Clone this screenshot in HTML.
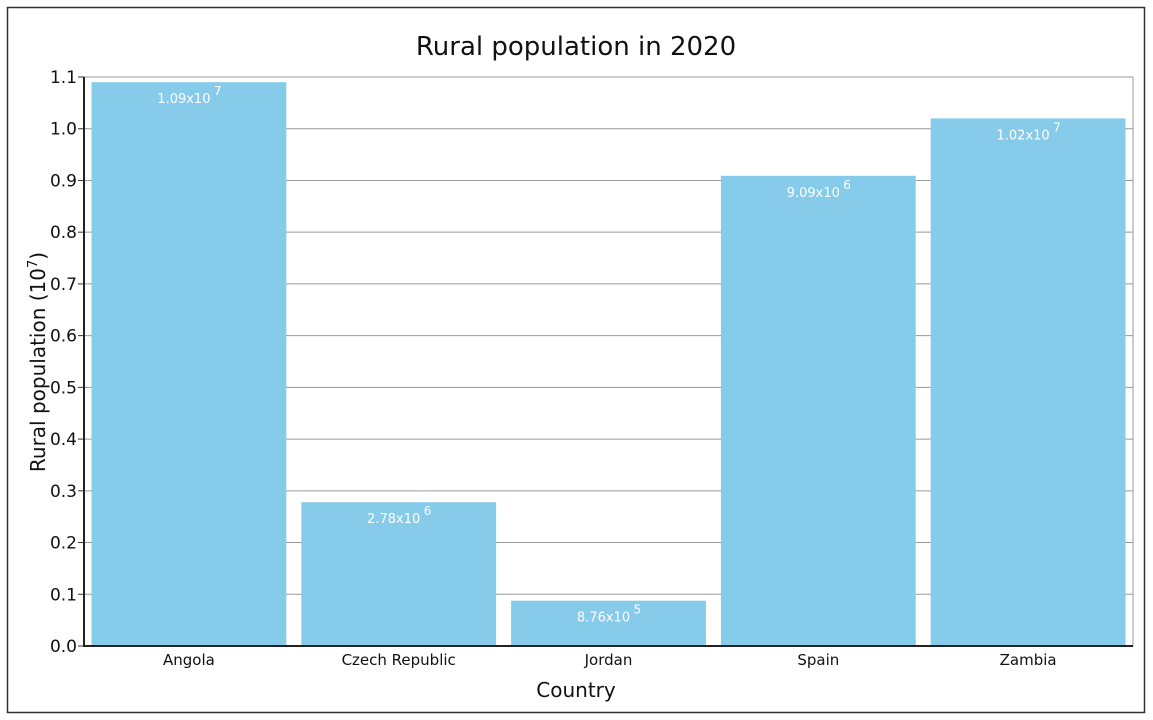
<!DOCTYPE html>
<html><head><meta charset="utf-8"><style>
html,body{margin:0;padding:0;background:#fff;}
svg{display:block;font-family:"DejaVu Sans","Liberation Sans",sans-serif;}
</style></head><body>
<svg id="chart" width="1153" height="720">
<rect x="7.5" y="7.5" width="1137" height="705" fill="#fff" stroke="#333" stroke-width="1.5"/>
<text x="576" y="55" text-anchor="middle" font-size="26" fill="#111">Rural population in 2020</text>
<g id="grid"></g><g id="bars"></g><g id="axes"></g>
<text x="576" y="697" text-anchor="middle" font-size="20" fill="#111">Country</text>
<text transform="translate(45,362) rotate(-90)" text-anchor="middle" font-size="20" fill="#111">Rural population (10<tspan dy="-8" font-size="13">7</tspan><tspan dy="8">)</tspan></text>
</svg>
<script>
const categories = ["Angola","Czech Republic","Jordan","Spain","Zambia"];
const values = [1.09, 0.278, 0.0876, 0.909, 1.02];
const labelMantissa = ["1.09","2.78","8.76","9.09","1.02"];
const labelExponent = ["7","6","5","6","7"];
const yTicks = [0,0.1,0.2,0.3,0.4,0.5,0.6,0.7,0.8,0.9,1.0,1.1];

const NS="http://www.w3.org/2000/svg";
const L=84,R=1133,T=77,B=646,yMax=1.1;
const y=v=>B-(v/yMax)*(B-T);
const band=(R-L)/categories.length;
const x=i=>L+i*band;
function mk(tag,attrs,parent){const e=document.createElementNS(NS,tag);for(const k in attrs)e.setAttribute(k,attrs[k]);parent.appendChild(e);return e;}
const grid=document.getElementById('grid'),bars=document.getElementById('bars'),axes=document.getElementById('axes');
mk('rect',{x:L,y:T,width:R-L,height:B-T,fill:'none',stroke:'#999','stroke-width':1},grid);
yTicks.forEach((t,i)=>{
  const g=mk('line',{x1:L,x2:R,y1:y(t),y2:y(t),stroke:'#999','stroke-width':1},grid);
  
  
  const tk=mk('line',{x1:L-6,x2:L,y1:y(t),y2:y(t),stroke:'#333'},axes);
  
  
  const lb=mk('text',{x:L-7,y:y(t)+6,'text-anchor':'end','font-size':17,fill:'#111'},axes);
  lb.textContent=t.toFixed(1);
  
  
});
categories.forEach((c,i)=>{
  const bx=x(i)+7.5,bw=band-15;
  const r=mk('rect',{x:bx,y:y(values[i]),width:bw,height:B-y(values[i]),fill:'#87cbea'},bars);
  
  
  const t=mk('text',{x:bx+bw/2-5,y:y(values[i])+21,'text-anchor':'middle','font-size':13,fill:'#fff'},bars);
  t.textContent=labelMantissa[i]+'x10';
  
  
  const e=mk('text',{x:bx+bw/2+25,y:y(values[i])+13,'font-size':12,fill:'#fff'},bars);
  e.textContent=labelExponent[i];
  
  
  const xl=mk('text',{x:x(i)+band/2,y:B+19,'text-anchor':'middle','font-size':15,fill:'#111'},axes);
  xl.textContent=c;
  
  
});
mk('line',{x1:L,x2:L,y1:T,y2:B+1,stroke:'#222','stroke-width':2},axes);
mk('line',{x1:L-1,x2:R,y1:B,y2:B,stroke:'#222','stroke-width':2},axes);
</script>
</body></html>
